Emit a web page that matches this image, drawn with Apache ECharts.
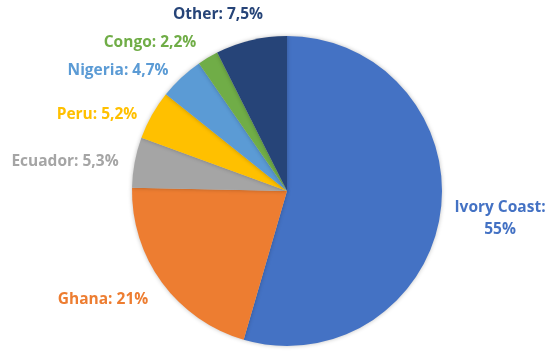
<!DOCTYPE html>
<html><head><meta charset="utf-8">
<script src="https://cdn.jsdelivr.net/npm/echarts@6/dist/echarts.min.js"></script>
<style>html,body{margin:0;padding:0;background:#fff}#c{width:555px;height:359px}</style>
</head><body><div id="c"></div>
<script>
const categories = ['Ivory Coast', 'Ghana', 'Ecuador', 'Peru', 'Nigeria', 'Congo', 'Other'];
const values = [55, 21, 5.3, 5.2, 4.7, 2.2, 7.5];
const labelTexts = ['Ivory Coast:\n55%', 'Ghana: 21%', 'Ecuador: 5,3%', 'Peru: 5,2%', 'Nigeria: 4,7%', 'Congo: 2,2%', 'Other: 7,5%'];
const colors = ['#4472C4', '#ED7D31', '#A5A5A5', '#FFC000', '#5B9BD5', '#70AD47', '#264478'];
// label centers (style/placement only)
const labelPos = [[500, 219], [103, 300], [65, 162], [97, 115], [118, 71], [150, 43], [218, 15]];

const chart = echarts.init(document.getElementById('c'), null, {renderer: 'canvas'});
chart.setOption({
  animation: false,
  backgroundColor: '#ffffff',
  series: [{
    type: 'pie',
    center: [287, 191],
    radius: 155,
    startAngle: 90,
    clockwise: true,
    itemStyle: {shadowBlur: 4, shadowColor: 'rgba(0,0,0,0.25)'},
    labelLine: {show: false},
    label: {
      show: true,
      position: 'outside',
      overflow: 'none',
      fontFamily: 'Open Sans',
      fontWeight: 'bold',
      fontSize: 15.5,
      lineHeight: 22,
      align: 'center',
      formatter: p => labelTexts[p.dataIndex]
    },
    labelLayout: p => ({x: labelPos[p.dataIndex][0], y: labelPos[p.dataIndex][1], align: 'center', verticalAlign: 'middle', hideOverlap: false}),
    data: categories.map((c, i) => ({
      name: c, value: values[i],
      itemStyle: {color: colors[i]},
      label: {color: colors[i]}
    }))
  }]
});
</script></body></html>
